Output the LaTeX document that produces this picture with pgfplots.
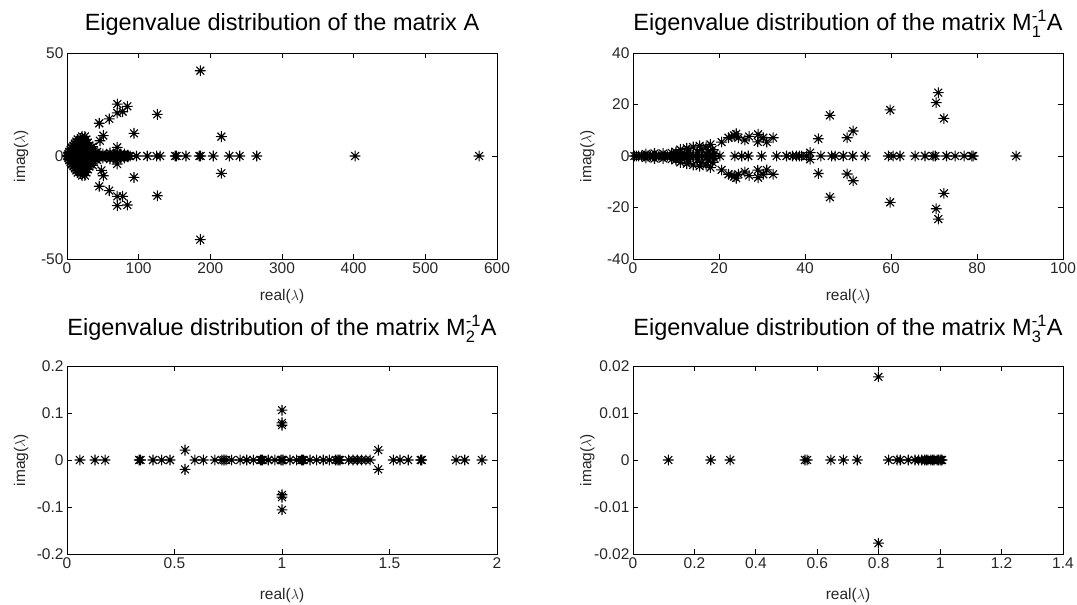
\documentclass[border=0pt]{standalone}
\usepackage{fontspec}
\setmainfont{Liberation Sans}
\usepackage{amsmath}
\usepackage{pgfplots}
\pgfplotsset{compat=1.18}
\pgfdeclareplotmark{mstar}{%
 \pgfpathmoveto{\pgfqpoint{-\pgfplotmarksize}{0pt}}\pgfpathlineto{\pgfqpoint{\pgfplotmarksize}{0pt}}%
 \pgfpathmoveto{\pgfqpoint{0pt}{-\pgfplotmarksize}}\pgfpathlineto{\pgfqpoint{0pt}{\pgfplotmarksize}}%
 \pgfpathmoveto{\pgfqpoint{-0.72\pgfplotmarksize}{-0.72\pgfplotmarksize}}\pgfpathlineto{\pgfqpoint{0.72\pgfplotmarksize}{0.72\pgfplotmarksize}}%
 \pgfpathmoveto{\pgfqpoint{-0.72\pgfplotmarksize}{0.72\pgfplotmarksize}}\pgfpathlineto{\pgfqpoint{0.72\pgfplotmarksize}{-0.72\pgfplotmarksize}}%
 \pgfusepathqstroke}
\pgfplotsset{
 mstyle/.style={scale only axis, width=430pt, clip=false,
  scaled ticks=false,
  axis line style={black, line width=0.8pt},
  tick align=inside, major tick length=5pt,
  every tick/.style={black, line width=0.8pt},
  tick label style={font=\fontsize{15.5}{15.5}\selectfont, text=black!85},
  title style={font=\fontsize{23.5}{24}\selectfont, at={(axis description cs:0.5,#1)}, anchor=base},
  xlabel={real($\lambda$)}, ylabel={imag($\lambda$)},
  ylabel style={font=\fontsize{15.5}{16}\selectfont, text=black!85, at={(axis description cs:-0.0814,0.5)}, anchor=south, rotate=0},
 },
 mstyle/.default=1.08,
 eig/.style={only marks, mark=mstar, mark size=5.4pt, black, line width=1.1pt},
}
\begin{document}
\begin{tikzpicture}[x=1pt,y=1pt]
\useasboundingbox (0,0) rectangle (1077,605);
% ---------- Panel 1 ----------
\begin{axis}[mstyle=1.0777, at={(67pt,346pt)}, anchor=south west, height=206pt,
  xmin=0, xmax=600, ymin=-50, ymax=50,
  xtick={0,100,200,300,400,500,600}, xticklabels={0,100,200,300,400,500,600},
  ytick={-50,0,50}, yticklabels={-50,0,50},
  xlabel style={font=\fontsize{15.5}{16}\selectfont, text=black!85, at={(axis description cs:0.5,-0.2039)}, anchor=base},
  title={Eigenvalue distribution of the matrix A}]
\addplot[eig] table {
x y
0.5 0
1 0
1.5 0
2 0
2.5 0
3 0
3.5 0
4 0
5 0
6 0
7 0
8 0
9 0
10 0
11 0
12 0
13 0
14 0
15 0
16 0
17 0
18 0
19 0
20 0
21 0
22 0
23 0
24 0
25 0
26 0
27 0
28 0
29 0
30 0
31 0
32 0
34 0
36 0
38 0
40 0
42 0
44 0
46 0
48 0
50 0
52 0
54 0
56 0
58 0
60 0
62 0
64 0
66 0
68 0
70 0
72 0
74 0
76 0
78 0
80 0
82 0
84 0
86 0
88 0
97 0
112 0
125 0
130 0
151 0
153 0
166 0
184.6 0
186.5 0
204 0
226.5 0
241 0
264.7 0
402 0
575 0
2 1
2 -1
3 2
3 -2
5 1.5
5 -1.5
5 3
5 -3
7 2
7 -2
7 4
7 -4
9 1
9 -1
9 3
9 -3
9 5
9 -5
11 2
11 -2
11 4
11 -4
11 6
11 -6
13 1
13 -1
13 3
13 -3
13 5
13 -5
13 7
13 -7
15 2
15 -2
15 4
15 -4
15 6
15 -6
15 8
15 -8
17 1
17 -1
17 3
17 -3
17 5
17 -5
17 7
17 -7
19 2
19 -2
19 4
19 -4
19 6
19 -6
19 8.5
19 -8.5
21 1
21 -1
21 3
21 -3
21 5
21 -5
21 7
21 -7
21 9.5
21 -9.5
23 2
23 -2
23 4
23 -4
23 6
23 -6
23 8
23 -8
25 1
25 -1
25 3
25 -3
25 5
25 -5
25 7
25 -7
25 9.5
25 -9.5
27 2
27 -2
27 4
27 -4
27 6
27 -6
27 8
27 -8
29 1.5
29 -1.5
29 4
29 -4
29 6.5
29 -6.5
31 2
31 -2
31 5
31 -5
33 1.5
33 -1.5
33 4
33 -4
36 2
36 -2
36 4.5
36 -4.5
39 1.5
39 -1.5
42 2
42 -2
50 1
50 -1
60 1.5
60 -1.5
65 1
65 -1
70 1.5
70 -1.5
75 1
75 -1
80 1
80 -1
45 15.9
45 -14.7
59 18
59 -16.8
70 20.9
70 -19.6
77.7 21.5
77.7 -19.6
70.2 25.2
70.2 -24.1
84.2 24.1
84.2 -23.8
126 20.2
126 -19.3
93.5 11
93.5 -10.4
215.4 9.4
215.4 -8.4
50.7 9.9
50.7 -9.6
46 7.4
48 -7
70 4.2
70 -3.9
186 41.4
186 -40.6
};
\end{axis}
% ---------- Panel 2 ----------
\begin{axis}[mstyle=1.0777, at={(633pt,346pt)}, anchor=south west, height=206pt,
  xmin=0, xmax=100, ymin=-40, ymax=40,
  xtick={0,20,40,60,80,100}, xticklabels={0,20,40,60,80,100},
  ytick={-40,-20,0,20,40}, yticklabels={-40,-20,0,20,40},
  xlabel style={font=\fontsize{15.5}{16}\selectfont, text=black!85, at={(axis description cs:0.5,-0.2039)}, anchor=base},
  title={Eigenvalue distribution of the matrix M$^{\text{-1}}_{\text{1}}$A}]
\addplot[eig] table {
x y
0.3 0
0.8 0
1.3 0
2 0
2.7 0
3.3 0
4 0
4.7 0
5.3 0
6 0
6.7 0
7.3 0
8 0
8.7 0
9.3 0
10 0
10.7 0
11.3 0
12 0
12.7 0
13.3 0
14 0
14.7 0
15.3 0
16 0
16.7 0
17.3 0
18 0
18.7 0
3 0.8
3 -0.8
5 1
5 -1
7 1
7 -1
9 1.2
9 -1.2
10 1.5
10 -1.5
11 2.5
11 -2.5
12 1
12 -1
12.5 3
12.5 -3
13 2
13 -2
14 3.5
14 -3.5
15 1.5
15 -1.5
15.5 4
15.5 -4
16 2.5
16 -2.5
17 3.5
17 -3.5
17.5 1.5
17.5 -1.5
18 4.5
18 -4.5
18.5 2.5
18.5 -2.5
19 1
19 -1
20.2 0
23.7 0
25.3 0
26.8 0
29.9 0
20.6 5.4
20.6 -5.4
22.2 7.1
22.2 -7.1
23.5 8
23.5 -8
24 8.6
24 -8.6
24.5 7.1
24.5 -7.1
23 7.5
23 -7.5
26 6.2
26 -6.2
27 7.6
27 -7.6
29.1 8.4
29.1 -8.4
29 5.5
29 -5.5
30.3 7.1
30.3 -7.1
31.1 5.4
31.1 -5.4
32.6 7.1
32.6 -7.1
33.4 0
35.7 0
37.1 0
38 0
38.7 0
39.2 0
40.4 0
41.2 1.3
41.2 -1.3
43.7 0
46.2 0
47 0
48.9 0
51.1 0
54 0
59.4 0
60.5 0
62.1 0
65.6 0
67.9 0
69.8 0
70.3 0
72.9 0
74.9 0
77 0
78.8 0
79.1 0
89.1 0
71 24.6
70.5 20.7
72.3 14.6
59.8 17.9
45.8 15.8
51.2 9.7
49.8 7.1
43.1 6.7
72.3 -14.5
70.5 -20.5
71 -24.5
59.8 -18
45.8 -16
51.2 -9.6
49.8 -7
43.1 -6.8
};
\end{axis}
% ---------- Panel 3 ----------
\begin{axis}[mstyle=1.1277, at={(67pt,51pt)}, anchor=south west, height=188pt,
  xmin=0, xmax=2, ymin=-0.2, ymax=0.2,
  xtick={0,0.5,1,1.5,2}, xticklabels={0,0.5,1,1.5,2},
  ytick={-0.2,-0.1,0,0.1,0.2}, yticklabels={-0.2,-0.1,0,0.1,0.2},
  xlabel style={font=\fontsize{15.5}{16}\selectfont, text=black!85, at={(axis description cs:0.5,-0.2394)}, anchor=base},
  title={Eigenvalue distribution of the matrix M$^{\text{-1}}_{\text{2}}$A}]
\addplot[eig] table {
x y
0.06 0
0.13 0
0.177 0
0.336 0
0.342 0
0.40 0
0.44 0
0.479 0
0.595 0
0.634 0
0.688 0
0.72 0
0.73 0
0.74 0
0.766 0
0.805 0
0.836 0
0.867 0
0.90 0
0.905 0
0.91 0
0.936 0
0.967 0
0.995 0
1.0 0
1.005 0
1.037 0
1.068 0
1.09 0
1.095 0
1.1 0
1.13 0
1.161 0
1.192 0
1.22 0
1.25 0
1.26 0
1.265 0
1.27 0
1.31 0
1.33 0
1.35 0
1.37 0
1.39 0
1.41 0
1.518 0
1.549 0
1.587 0
1.645 0
1.65 0
1.81 0
1.85 0
1.93 0
0.549 0.021
0.549 -0.02
1.448 0.021
1.448 -0.02
1 0.106
1 0.079
1 0.074
1 -0.074
1 -0.079
1 -0.106
};
\end{axis}
% ---------- Panel 4 ----------
\begin{axis}[mstyle=1.1277, at={(633pt,51pt)}, anchor=south west, height=188pt,
  xmin=0, xmax=1.4, ymin=-0.02, ymax=0.02,
  xtick={0,0.2,0.4,0.6,0.8,1,1.2,1.4}, xticklabels={0,0.2,0.4,0.6,0.8,1,1.2,1.4},
  ytick={-0.02,-0.01,0,0.01,0.02}, yticklabels={-0.02,-0.01,0,0.01,0.02},
  xlabel style={font=\fontsize{15.5}{16}\selectfont, text=black!85, at={(axis description cs:0.5,-0.2394)}, anchor=base},
  title={Eigenvalue distribution of the matrix M$^{\text{-1}}_{\text{3}}$A}]
\addplot[eig] table {
x y
0.115 0
0.253 0
0.316 0
0.56 0
0.567 0
0.644 0
0.685 0
0.73 0
0.832 0
0.86 0
0.87 0
0.896 0
0.918 0
0.93 0
0.94 0
0.95 0
0.955 0
0.96 0
0.97 0
0.975 0
0.98 0
0.99 0
0.995 0
1.0 0
1.003 0
1.006 0
0.799 0.0177
0.799 -0.0177
};
\end{axis}
\end{tikzpicture}
\end{document}
